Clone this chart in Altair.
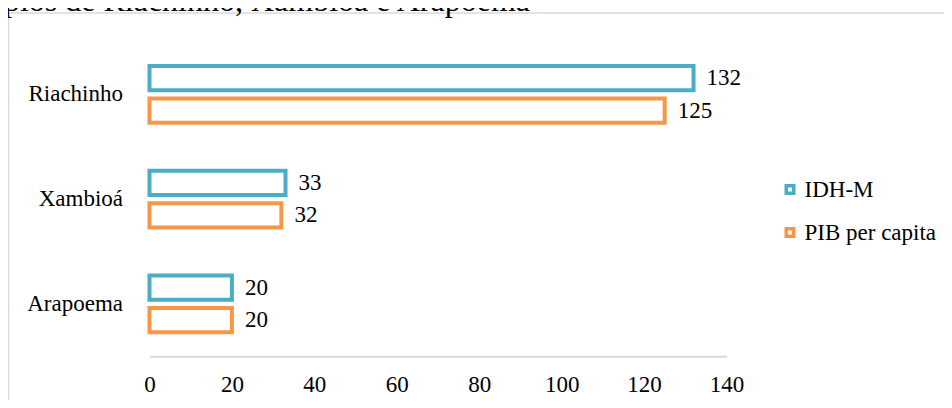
import altair as alt
import pandas as pd

categories = ["Riachinho", "Xambioá", "Arapoema"]
series = ["IDH-M", "PIB per capita"]
idh_values = [132, 33, 20]
pib_values = [125, 32, 20]
colors = ["#4BACC6", "#F79646"]
x_ticks = [0, 20, 40, 60, 80, 100, 120, 140]
title_text = "Municípios de Riachinho, Xambioá e Arapoema"

rows = []
for c, v in zip(categories, idh_values):
    rows.append({"municipio": c, "serie": series[0], "valor": v})
for c, v in zip(categories, pib_values):
    rows.append({"municipio": c, "serie": series[1], "valor": v})
df = pd.DataFrame(rows)

FONT = "Liberation Serif"

y_enc = alt.Y(
    "municipio:N",
    sort=categories,
    scale=alt.Scale(paddingInner=0.458, paddingOuter=0.229),
    axis=alt.Axis(title=None, domain=False, ticks=False, labelPadding=27,
                  labelFont=FONT, labelFontSize=23, labelColor="black"),
)
x_enc = alt.X(
    "valor:Q",
    scale=alt.Scale(domain=[0, 140], nice=False),
    axis=alt.Axis(values=x_ticks, title=None, grid=False, ticks=False,
                  domainColor="#d9d9d9", domainWidth=2, labelPadding=17,
                  labelFlush=False,
                  labelFont=FONT, labelFontSize=23, labelColor="black"),
)
yoff_enc = alt.YOffset("serie:N", sort=series,
                       scale=alt.Scale(paddingInner=0.251, paddingOuter=0))

base = alt.Chart(df)

bars = base.mark_bar(fill="white", strokeWidth=4).encode(
    y=y_enc,
    x=x_enc,
    yOffset=yoff_enc,
    stroke=alt.Stroke(
        "serie:N",
        scale=alt.Scale(domain=series, range=colors),
        legend=alt.Legend(orient="none", legendX=629, legendY=136, title=None,
                          symbolType="square", symbolSize=56, symbolStrokeWidth=3.5,
                          symbolFillColor="white", labelFont=FONT, labelFontSize=23,
                          labelColor="black", rowPadding=19, labelOffset=3, padding=0),
    ),
)

labels = base.mark_text(align="left", baseline="middle", dx=13, font=FONT,
                        fontSize=23, color="black").encode(
    y=y_enc,
    x=x_enc,
    yOffset=yoff_enc,
    text=alt.Text("valor:Q"),
)

dummy = alt.Chart(pd.DataFrame({"a": [0]}))
frame_top = dummy.mark_rule(color="#d9d9d9", strokeWidth=1.5).encode(
    x=alt.value(-141), x2=alt.value(810), y=alt.value(-29))
frame_left = dummy.mark_rule(color="#d9d9d9", strokeWidth=1.5).encode(
    x=alt.value(-141), y=alt.value(-29), y2=alt.value(372))
title = dummy.mark_text(align="right", baseline="alphabetic", font=FONT,
                        fontSize=32, color="black", text=title_text).encode(
    x=alt.value(380.5), y=alt.value(-31))

chart = alt.layer(frame_top, frame_left, title, bars, labels).properties(
    width=577,
    height=314.25,
    autosize=alt.AutoSizeParams(type="none"),
    padding={"left": 141.5, "top": 34, "right": 217.5, "bottom": 43.75},
    background="white",
).configure_view(stroke=None)

chart.save("out.html", embed_options={"renderer": "svg", "actions": False})
